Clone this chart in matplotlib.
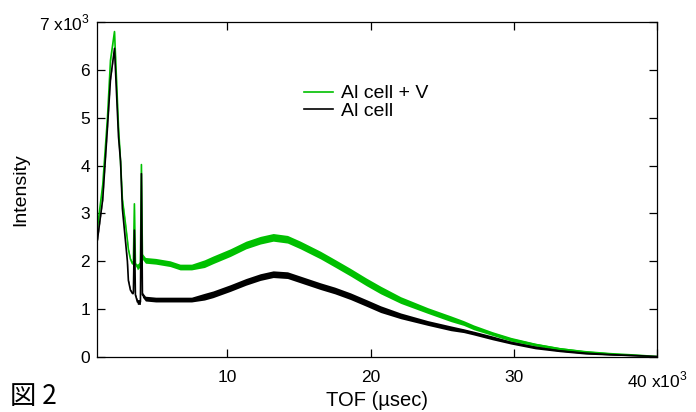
import numpy as np
import matplotlib
matplotlib.use("Agg")
import matplotlib.pyplot as plt

plt.rcParams['font.family'] = ['Liberation Sans', 'DejaVu Sans']
plt.rcParams['mathtext.fontset'] = 'custom'
plt.rcParams['mathtext.rm'] = 'Liberation Sans'

# TOF in units of 10^3 usec, intensity in units of 10^3
tof = [0.93, 1.3, 1.63, 1.84, 2.12, 2.4, 2.54, 2.67, 2.88, 3.02, 3.09, 3.23,
       3.37, 3.44, 3.51, 3.58, 3.72, 3.93, 4.0, 4.07, 4.28, 5.0, 6.0, 6.7,
       7.5, 8.4, 9.0, 10.2, 11.3, 12.3, 13.2, 14.2, 15.1, 16.5, 17.5, 18.6,
       19.7, 20.7, 22.1, 24.0, 25.6, 26.5, 27.2, 28.5, 29.8, 31.5, 33.2,
       35.0, 36.7, 38.5, 40.0]

al_v = [2.7, 3.6, 5.0, 6.2, 6.8, 4.8, 4.1, 3.3, 2.8, 2.44, 2.25, 2.05,
        1.95, 2.0, 3.2, 1.95, 1.88, 1.95, 4.02, 2.1, 2.02, 2.0, 1.95, 1.88,
        1.88, 1.95, 2.03, 2.18, 2.34, 2.44, 2.5, 2.46, 2.34, 2.13, 1.96, 1.77,
        1.57, 1.4, 1.19, 0.97, 0.8, 0.71, 0.62, 0.49, 0.37, 0.26, 0.17,
        0.11, 0.07, 0.04, 0.01]

al = [2.45, 3.3, 4.8, 5.8, 6.45, 4.6, 4.1, 3.1, 2.44, 2.0, 1.6, 1.4,
      1.33, 1.35, 2.65, 1.3, 1.15, 1.15, 3.83, 1.3, 1.22, 1.2, 1.2, 1.2,
      1.2, 1.26, 1.31, 1.44, 1.57, 1.67, 1.73, 1.71, 1.62, 1.48, 1.39, 1.27,
      1.13, 1.0, 0.86, 0.71, 0.6, 0.55, 0.5, 0.4, 0.3, 0.2, 0.13,
      0.08, 0.05, 0.03, 0.01]

# half-width of the noise band on each curve
al_v_noise = [0.02] * 16 + [0.06] * 9 + [0.08] * 13 + [0.07, 0.06, 0.06, 0.05,
              0.05, 0.04, 0.04, 0.03, 0.03, 0.02, 0.02, 0.01, 0.01]
al_noise = [0.02] * 16 + [0.05] * 9 + [0.07] * 13 + [0.06, 0.05, 0.05, 0.04,
            0.04, 0.04, 0.03, 0.03, 0.02, 0.02, 0.01, 0.01, 0.01]

x_ticks = [10, 20, 30, 40]
x_ticklabels = ['10', '20', '30', '40 x10$^3$']
y_ticks = [0, 1, 2, 3, 4, 5, 6, 7]
y_ticklabels = ['0', '1', '2', '3', '4', '5', '6', '7 x10$^3$']

GREEN = '#00c000'

fig = plt.figure(figsize=(6.96, 4.12), dpi=100)
ax = fig.add_axes([0.1394, 0.1335, 0.8046, 0.8131])

x = np.array(tof)
for y, s, c, lab in [(al_v, al_v_noise, GREEN, 'Al cell + V'),
                     (al, al_noise, 'black', 'Al cell')]:
    y = np.array(y)
    s = np.array(s)
    ax.fill_between(x, y - s, y + s, color=c, lw=0)
    ax.plot(x, y, color=c, lw=1.2, label=lab)

ax.set_xlim(0.9, 40)
ax.set_ylim(0, 7)
ax.set_xticks(x_ticks)
ax.set_xticklabels(x_ticklabels)
ax.set_yticks(y_ticks)
ax.set_yticklabels(y_ticklabels)
ax.tick_params(direction='in', length=6, width=0.9, top=True, right=True,
               labelsize=12.5, pad=5)
ax.tick_params(axis='x', pad=9.5)
for sp in ax.spines.values():
    sp.set_linewidth(0.9)

ax.set_xlabel('TOF (\u00b5sec)', fontsize=14.5)
ax.xaxis.set_label_coords(0.5, -0.102)
ax.set_ylabel('Intensity', fontsize=14, labelpad=7)

ax.legend(loc='upper left', bbox_to_anchor=(0.355, 0.836), frameon=False,
          fontsize=14, handlelength=1.5, handletextpad=0.4,
          labelspacing=0.0, borderaxespad=0)

fig.text(0.014, 0.02, '\u56f3 2', fontsize=19,
         family=['Noto Sans CJK JP', 'DejaVu Sans'])

fig.savefig('out.png', dpi=100)
